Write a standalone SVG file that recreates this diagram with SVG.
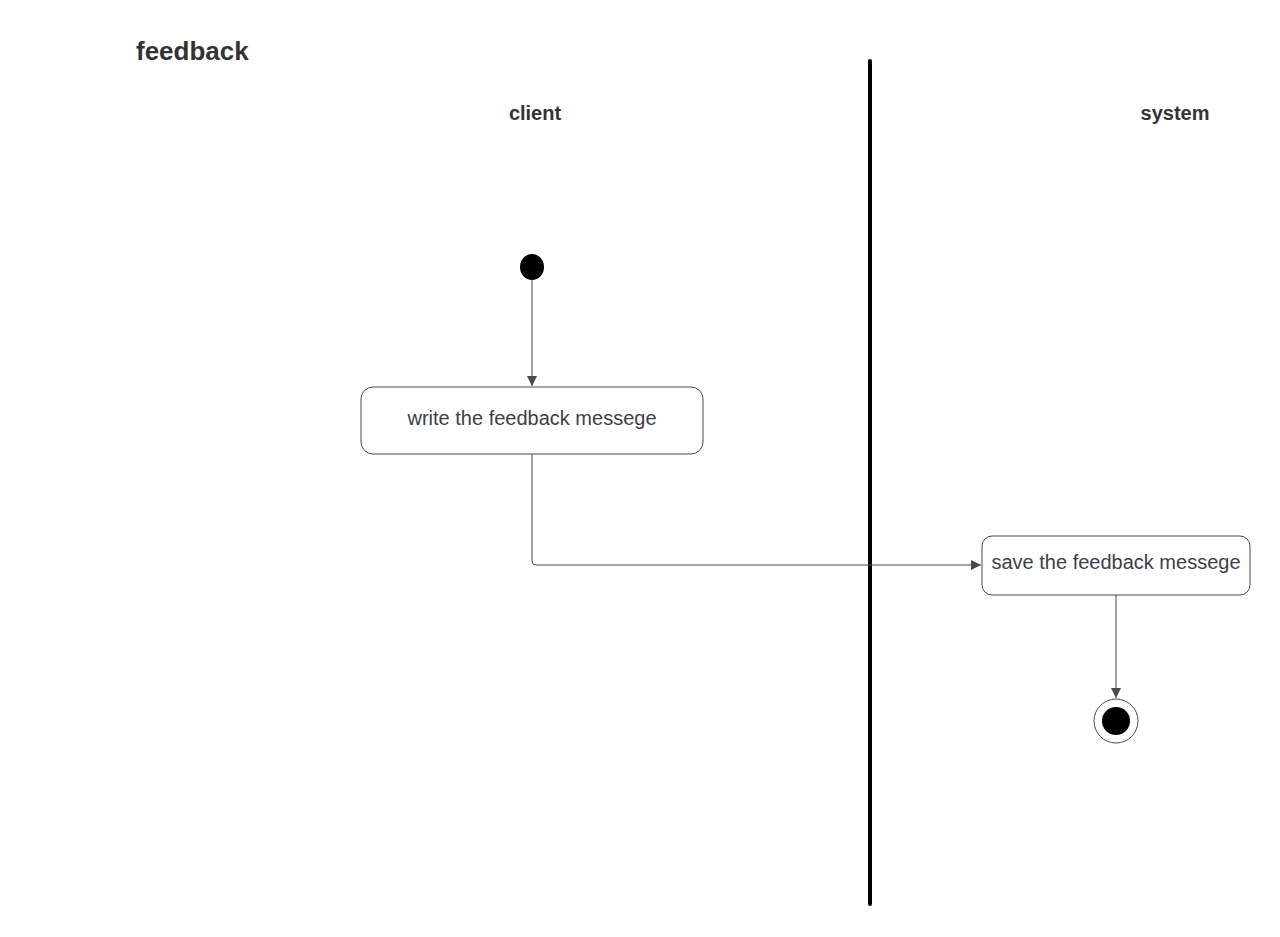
<svg xmlns="http://www.w3.org/2000/svg" width="1280" height="937" viewBox="0 0 1280 937">
<style>
.title{font-family:"Liberation Sans",Arial,sans-serif;font-weight:bold;fill:#333333}
.lbl{font-family:"Liberation Sans",Arial,sans-serif;font-size:20px;fill:#3a414a;text-anchor:middle}
.box{fill:#ffffff;stroke:#444a52;stroke-width:1}
.conn{fill:none;stroke:#444a52;stroke-width:1}
</style>
<defs>
<marker id="arr" viewBox="0 0 10 10" refX="10" refY="5" markerWidth="10" markerHeight="10" markerUnits="userSpaceOnUse" orient="auto">
<path d="M0,0 L10,5 L0,10 z" fill="#444a52"/>
</marker>
</defs>
<rect width="1280" height="937" fill="#ffffff"/>
<text class="title" x="136" y="60" font-size="26">feedback</text>
<text class="title" x="535" y="120" font-size="20" text-anchor="middle">client</text>
<text class="title" x="1175" y="120" font-size="20" text-anchor="middle">system</text>
<line x1="870" y1="61" x2="870" y2="904" stroke="#000000" stroke-width="4" stroke-linecap="round"/>
<g id="connectors">
<path class="conn" d="M532,280 L532,386" marker-end="url(#arr)"/>
<path class="conn" d="M532,454 L532,561 Q532,565 536,565 L981,565" marker-end="url(#arr)"/>
<path class="conn" d="M1116,595 L1116,698" marker-end="url(#arr)"/>
</g>
<g id="start">
<ellipse cx="532" cy="267" rx="12" ry="13" fill="#000000"/>
</g>
<g id="write">
<rect class="box" x="361" y="387" width="342" height="67" rx="12"/>
<text class="lbl" x="532" y="425">write the feedback messege</text>
</g>
<g id="save">
<rect class="box" x="982" y="536" width="268" height="59" rx="10"/>
<text class="lbl" x="1116" y="569">save the feedback messege</text>
</g>
<g id="end">
<circle cx="1116" cy="721" r="22" fill="#ffffff" stroke="#444a52" stroke-width="1"/>
<circle cx="1116" cy="721" r="14" fill="#000000"/>
</g>
</svg>
